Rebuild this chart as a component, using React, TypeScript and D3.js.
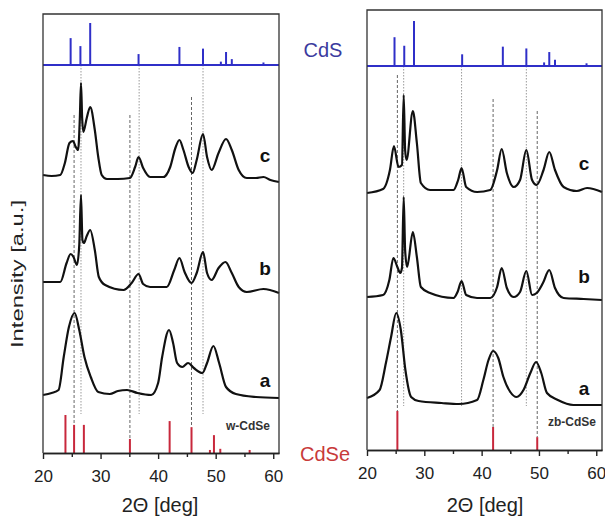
import React, { useEffect, useRef } from 'react';
import * as d3 from 'd3';

// 2-theta axis
const twoTheta = [20, 61];
const majorTicks = [20, 30, 40, 50, 60];
const minorTicks = [25, 35, 45, 55];

// reference patterns (relative intensity, %)
const cdsPos = [24.8, 26.5, 28.2, 36.6, 43.7, 47.8, 50.9, 51.8, 52.8, 58.3];
const cdsInt = [64, 45, 100, 26, 43, 39, 8, 31, 14, 6];
const wCdSePos = [23.9, 25.4, 27.1, 35.1, 42.0, 45.8, 49.0, 49.7, 50.8, 55.9];
const wCdSeInt = [100, 74, 74, 37, 84, 68, 8, 47, 11, 8];
const zbCdSePos = [25.3, 42.0, 49.7];
const zbCdSeInt = [100, 59, 33];

// guide lines
const wGuideCdS = [26.6, 36.7, 47.8];
const wGuideCdSe = [25.4, 35.1, 45.8];
const wGuideTop = [338, 338, 356];
const zbGuideCdS = [26.4, 36.5, 47.8];
const zbGuideCdSe = [25.3, 42.0, 49.7];
const zbGuideTop = [375, 351, 339];

// measured patterns, stacked [2θ, intensity a.u.]
const wC: [number, number][] = [
  [20.0, 278], [21.5, 277], [23.0, 278], [23.8, 290], [24.6, 310], [25.2, 312], [25.7, 306], [26.1, 303],
  [26.4, 335], [26.6, 370], [26.8, 335], [27.0, 321], [27.6, 335], [28.2, 346], [29.0, 323], [29.6, 296],
  [30.2, 278], [31.1, 274], [33.0, 274], [35.1, 275], [36.0, 286], [36.6, 296], [37.4, 285], [38.6, 276],
  [40.9, 276], [42.1, 286], [43.0, 305], [43.7, 313], [44.4, 303], [45.3, 286], [46.0, 280], [46.7, 293],
  [47.8, 319], [48.5, 296], [49.3, 283], [50.5, 300], [51.8, 314], [52.8, 303], [54.0, 283], [55.4, 275],
  [57.0, 275], [58.3, 276], [59.5, 273], [61.0, 271],
];
const wB: [number, number][] = [
  [20.0, 171], [21.5, 171], [23.0, 171], [24.1, 190], [24.8, 199], [25.3, 196], [25.9, 188], [26.3, 208],
  [26.6, 258], [26.85, 213], [27.1, 210], [27.6, 217], [28.2, 223], [29.0, 203], [29.7, 176], [30.8, 168],
  [34.0, 163], [35.4, 170], [36.6, 179], [37.4, 169], [38.6, 166], [41.5, 166], [42.8, 183], [43.7, 195],
  [44.6, 181], [45.8, 170], [46.7, 180], [47.8, 201], [48.5, 180], [49.3, 173], [50.5, 185], [51.7, 191],
  [52.8, 180], [54.0, 166], [55.4, 161], [58.3, 164], [61.0, 160],
];
const wA: [number, number][] = [
  [20.0, 58], [21.5, 60], [22.7, 63], [23.6, 96], [24.5, 126], [25.5, 140], [26.3, 123], [27.2, 96],
  [28.3, 76], [29.6, 61], [31.6, 59], [33.0, 62], [34.6, 63], [36.4, 60], [38.8, 58], [40.0, 70],
  [40.7, 96], [41.9, 123], [42.6, 110], [43.3, 90], [44.2, 86], [45.2, 90], [46.2, 85], [47.7, 80],
  [48.5, 90], [49.6, 107], [50.6, 90], [51.8, 66], [53.5, 59], [57.0, 56], [61.0, 55],
];
const zbC: [number, number][] = [
  [20.0, 257], [22.8, 261], [24.0, 280], [24.7, 304], [25.5, 283], [26.1, 285], [26.4, 355], [26.65, 300],
  [26.9, 290], [28.0, 339], [28.7, 307], [29.4, 267], [31.0, 260], [35.1, 260], [35.9, 270], [36.5, 282],
  [37.3, 263], [39.2, 258], [41.5, 260], [42.7, 280], [43.5, 301], [44.4, 277], [45.6, 263], [46.7, 270],
  [47.8, 300], [48.8, 270], [49.6, 265], [50.8, 280], [51.8, 298], [52.8, 280], [54.3, 263], [56.6, 259],
  [58.4, 262], [61.0, 258],
];
const zbB: [number, number][] = [
  [20.0, 153], [22.8, 155], [23.9, 170], [24.6, 192], [25.3, 183], [25.8, 177], [26.1, 182], [26.4, 253],
  [26.65, 200], [27.0, 183], [28.0, 218], [28.7, 193], [29.4, 163], [31.0, 157], [35.1, 152], [35.8, 158],
  [36.5, 169], [37.3, 155], [39.2, 152], [41.5, 152], [42.7, 163], [43.5, 182], [44.4, 162], [45.6, 153],
  [46.7, 158], [47.8, 179], [48.8, 155], [49.6, 157], [50.7, 167], [51.8, 180], [52.8, 162], [54.3, 152],
  [57.8, 151], [61.0, 150],
];
const zbA: [number, number][] = [
  [20.0, 52], [22.2, 60], [23.3, 87], [24.2, 113], [25.1, 137], [25.9, 120], [26.7, 80], [27.7, 53],
  [29.0, 49], [33.0, 47], [36.0, 46], [39.2, 50], [40.3, 70], [41.2, 90], [42.0, 99], [42.9, 92],
  [43.8, 73], [45.0, 58], [46.1, 53], [47.3, 60], [48.5, 77], [49.5, 88], [50.4, 77], [51.4, 57],
  [53.3, 50], [56.0, 45], [61.0, 45],
];

const FONT = 'Arial, "Liberation Sans", sans-serif';
const BLUE = '#2f2fc8';
const RED = '#c8283c';

function XAxis({ scale, y }: { scale: d3.ScaleLinear<number, number>; y: number }) {
  const ref = useRef<SVGGElement>(null);
  useEffect(() => {
    const g = d3.select(ref.current);
    g.selectAll('*').remove();
    g.append('g').call(
      d3.axisBottom(scale).tickValues(minorTicks).tickSize(4).tickSizeOuter(0).tickFormat(() => '')
    );
    g.append('g').call(
      d3.axisBottom(scale).tickValues(majorTicks).tickSize(6).tickSizeOuter(0).tickPadding(11)
        .tickFormat(d3.format('d'))
    );
    g.selectAll('.domain').attr('stroke', '#222').attr('stroke-width', 1.4);
    g.selectAll('line').attr('stroke', '#222').attr('stroke-width', 1.4);
    g.selectAll('text').attr('font-size', 17).attr('font-family', FONT).attr('fill', '#222');
  }, [scale, y]);
  return <g ref={ref} transform={`translate(0,${y})`} />;
}

function Panel(props: any) {
  const { x0, x1, axisY, top, cdsBase, cdsMax, cdseMax, cdsePos, cdseInt, traces, labels,
    guideCdS, guideCdSe, guideTop, guideBottom, phase, phaseX, phaseY, titleX } = props;
  const x = d3.scaleLinear().domain(twoTheta).range([x0, x1]);
  const y = d3.scaleLinear().domain([0, axisY - top]).range([axisY, top]);
  const hCdS = d3.scaleLinear().domain([0, 100]).range([0, cdsMax]);
  const hCdSe = d3.scaleLinear().domain([0, 100]).range([0, cdseMax]);
  const line = d3.line<[number, number]>().x(d => x(d[0])).y(d => y(d[1])).curve(d3.curveMonotoneX);

  return (
    <g>
      {/* guide lines */}
      {guideCdS.map((p: number, i: number) => (
        <line key={'gs' + i} x1={x(p)} x2={x(p)} y1={y(cdsBase)} y2={y(guideBottom)}
          stroke="#9a9a9a" strokeWidth={1} strokeDasharray="1.5,1.5" />
      ))}
      {guideCdSe.map((p: number, i: number) => {
        const k = cdsePos.indexOf(p);
        return (
          <line key={'ge' + i} x1={x(p)} x2={x(p)} y1={y(guideTop[i])} y2={y(hCdSe(cdseInt[k]))}
            stroke="#666" strokeWidth={1} strokeDasharray="3,2" />
        );
      })}

      {/* CdS reference */}
      <line x1={x0} x2={x1} y1={y(cdsBase)} y2={y(cdsBase)} stroke={BLUE} strokeWidth={2} />
      {cdsPos.map((p, i) => (
        <line key={'s' + i} x1={x(p)} x2={x(p)} y1={y(cdsBase)} y2={y(cdsBase + hCdS(cdsInt[i]))}
          stroke={BLUE} strokeWidth={2} />
      ))}

      {/* CdSe reference */}
      {cdsePos.map((p: number, i: number) => (
        <line key={'e' + i} x1={x(p)} x2={x(p)} y1={y(0)} y2={y(hCdSe(cdseInt[i]))}
          stroke={RED} strokeWidth={2} />
      ))}

      {/* measured patterns */}
      {traces.map((t: [number, number][], i: number) => (
        <path key={'t' + i} d={line(t) || ''} fill="none" stroke="#111" strokeWidth={2.2}
          strokeLinejoin="round" />
      ))}
      {labels.map((l: any, i: number) => (
        <text key={'l' + i} x={l[0]} y={l[1]} textAnchor="middle" fontSize={19} fontWeight="bold"
          fontFamily={FONT} fill="#111">{l[2]}</text>
      ))}
      <text x={phaseX} y={phaseY} textAnchor="middle" fontSize={12} fontWeight="bold"
        fontFamily={FONT} fill="#333">{phase}</text>

      {/* frame */}
      <path d={`M${x0},${axisY}V${top}H${x1}V${axisY}`} fill="none" stroke="#333" strokeWidth={1.3} />
      <XAxis scale={x} y={axisY} />
      <text x={titleX} y={512} textAnchor="middle" fontSize={20} fontFamily={FONT} fill="#222">
        2Θ [deg]
      </text>
    </g>
  );
}

export default function App() {
  return (
    <svg width={605} height={522} style={{ position: 'absolute', left: 0, top: 0, background: '#fff' }}>
      <text transform="translate(23,274) rotate(-90)" textAnchor="middle" fontSize={16} fontFamily={FONT}
        fill="#222" textLength={148} lengthAdjust="spacingAndGlyphs">Intensity [a.u.]</text>
      <Panel x0={43} x1={279} axisY={453} top={14} cdsBase={388} cdsMax={42} cdseMax={38}
        cdsePos={wCdSePos} cdseInt={wCdSeInt} traces={[wA, wB, wC]}
        labels={[[265, 387, 'a'], [265, 275, 'b'], [265, 162, 'c']]}
        guideCdS={wGuideCdS} guideCdSe={wGuideCdSe} guideTop={wGuideTop} guideBottom={39}
        phase="w-CdSe" phaseX={248} phaseY={430} titleX={160} />
      <Panel x0={367} x1={602} axisY={450} top={10} cdsBase={384} cdsMax={45} cdseMax={39}
        cdsePos={zbCdSePos} cdseInt={zbCdSeInt} traces={[zbA, zbB, zbC]}
        labels={[[584, 395, 'a'], [584, 283, 'b'], [584, 170, 'c']]}
        guideCdS={zbGuideCdS} guideCdSe={zbGuideCdSe} guideTop={zbGuideTop} guideBottom={44}
        phase="zb-CdSe" phaseX={572} phaseY={426} titleX={485} />
      <text x={323} y={57} textAnchor="middle" fontSize={20} fontFamily={FONT} fill="#3b3b9e">CdS</text>
      <text x={325} y={461} textAnchor="middle" fontSize={20} fontFamily={FONT} fill="#c83a3a">CdSe</text>
    </svg>
  );
}
